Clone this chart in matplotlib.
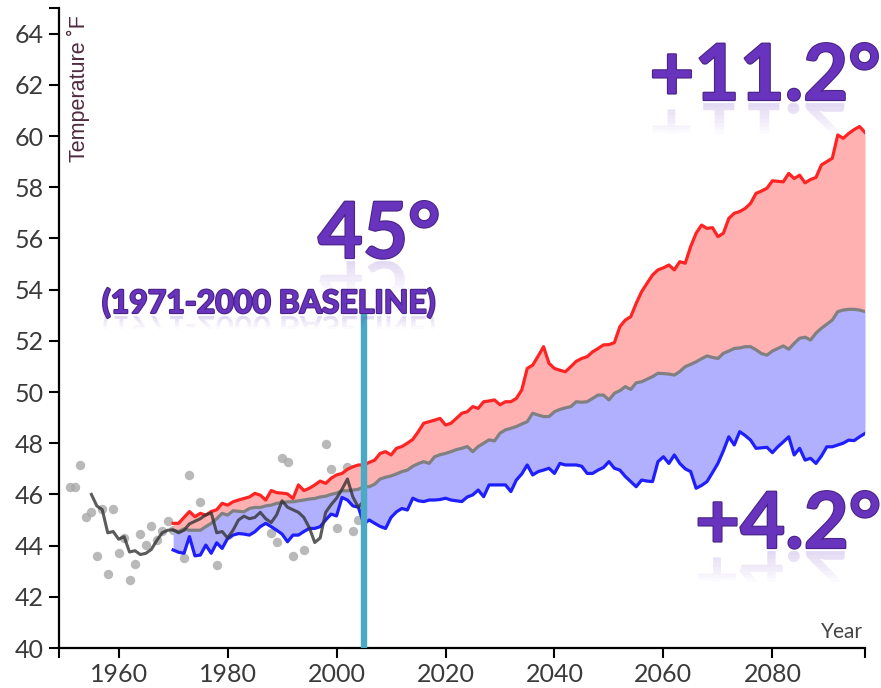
import matplotlib
matplotlib.use('Agg')
import matplotlib.pyplot as plt
from matplotlib import patheffects
from matplotlib.textpath import TextPath
from matplotlib.font_manager import FontProperties
from matplotlib.patches import PathPatch
from matplotlib.transforms import Affine2D, Bbox

#####
# Data (degrees F)

proj_years = list(range(1970, 2098))

high = [
    44.87, 44.87, 45.10, 45.33, 45.13, 45.26, 45.19, 45.33, 45.40, 45.65,
    45.58, 45.71, 45.78, 45.84, 45.90, 46.04, 45.97, 45.78, 46.15, 46.07,
    46.05, 46.02, 45.84, 46.37, 46.15, 46.24, 46.37, 46.52, 46.43, 46.63,
    46.76, 46.82, 46.98, 47.08, 47.15, 47.15, 47.25, 47.34, 47.60, 47.67,
    47.54, 47.80, 47.87, 48.00, 48.15, 48.45, 48.78, 48.84, 48.90, 48.97,
    48.71, 48.78, 48.97, 49.17, 49.23, 49.43, 49.36, 49.62, 49.65, 49.69,
    49.50, 49.62, 49.62, 49.75, 50.08, 50.92, 51.05, 51.40, 51.77, 51.12,
    50.92, 50.85, 50.79, 50.99, 51.20, 51.31, 51.38, 51.57, 51.70, 51.84,
    51.85, 51.93, 52.55, 52.81, 52.94, 53.46, 53.92, 54.25, 54.57, 54.77,
    54.85, 54.96, 54.77, 55.09, 55.03, 55.68, 56.20, 56.52, 56.39, 56.42,
    56.07, 56.20, 56.78, 56.98, 57.05, 57.17, 57.37, 57.76, 57.85, 57.96,
    58.25, 58.23, 58.21, 58.54, 58.34, 58.47, 58.17, 58.30, 58.38, 58.87,
    59.00, 59.13, 60.04, 59.91, 60.10, 60.25, 60.37, 60.14,
]

median = [
    44.60, 44.55, 44.65, 44.60, 44.60, 44.60, 44.74, 44.87, 45.05, 45.26,
    45.19, 45.36, 45.34, 45.32, 45.45, 45.49, 45.49, 45.55, 45.58, 45.65,
    45.68, 45.71, 45.71, 45.75, 45.78, 45.82, 45.84, 45.90, 45.93, 46.00,
    46.05, 46.14, 46.14, 46.17, 46.20, 46.30, 46.30, 46.40, 46.60, 46.67,
    46.72, 46.80, 46.89, 46.95, 47.10, 47.20, 47.28, 47.21, 47.47, 47.55,
    47.60, 47.67, 47.75, 47.80, 47.87, 47.67, 47.87, 48.00, 48.13, 48.09,
    48.39, 48.52, 48.58, 48.65, 48.75, 48.84, 49.17, 49.10, 49.04, 49.04,
    49.23, 49.32, 49.38, 49.43, 49.62, 49.60, 49.62, 49.75, 49.88, 49.88,
    49.69, 49.95, 50.05, 50.21, 50.10, 50.36, 50.40, 50.50, 50.60, 50.73,
    50.72, 50.70, 50.66, 50.80, 50.99, 51.08, 51.18, 51.30, 51.41, 51.35,
    51.31, 51.51, 51.60, 51.70, 51.72, 51.77, 51.77, 51.65, 51.50, 51.44,
    51.60, 51.70, 51.80, 51.67, 51.90, 52.10, 52.14, 52.03, 52.30, 52.49,
    52.65, 52.81, 53.14, 53.20, 53.23, 53.23, 53.20, 53.14,
]

low = [
    43.83, 43.74, 43.70, 44.35, 43.60, 43.63, 44.02, 43.70, 44.11, 43.89,
    44.28, 44.41, 44.47, 44.45, 44.41, 44.54, 44.74, 44.87, 44.74, 44.60,
    44.45, 44.15, 44.41, 44.41, 44.55, 44.67, 44.67, 44.74, 45.00, 45.23,
    45.16, 45.88, 45.78, 45.55, 45.50, 44.85, 45.00, 44.87, 44.75, 44.67,
    45.10, 45.32, 45.45, 45.39, 45.85, 45.75, 45.72, 45.78, 45.78, 45.80,
    45.85, 45.78, 45.75, 45.72, 45.90, 45.98, 46.17, 45.91, 46.37, 46.37,
    46.37, 46.37, 46.11, 46.56, 46.80, 47.15, 46.76, 46.89, 46.95, 47.02,
    46.82, 47.21, 47.15, 47.15, 47.15, 47.10, 46.82, 46.82, 46.95, 47.05,
    47.28, 47.02, 46.95, 46.70, 46.50, 46.30, 46.56, 46.52, 46.50, 47.28,
    47.47, 47.21, 47.54, 47.21, 47.00, 46.89, 46.24, 46.35, 46.50, 46.85,
    47.21, 47.70, 48.25, 47.93, 48.45, 48.30, 48.12, 47.80, 47.82, 47.84,
    47.63, 47.86, 48.05, 48.25, 47.54, 47.80, 47.34, 47.41, 47.21, 47.50,
    47.86, 47.86, 47.93, 48.00, 48.12, 48.10, 48.25, 48.38,
]

# observed annual values
obs_years = list(range(1951, 2005))
obs = [
    46.30, 46.30, 47.15, 45.10, 45.33, 43.60, 45.43, 42.88, 45.43, 43.72,
    44.30, 42.66, 43.28, 44.45, 44.02, 44.78, 44.20, 44.58, 44.97, 44.60,
    44.50, 43.50, 46.76, 45.00, 45.72, 44.90, 44.60, 43.24, 45.36, 44.40,
    45.39, 44.90, 45.55, 45.00, 45.00, 45.10, 45.30, 44.50, 44.15, 47.41,
    47.28, 43.60, 45.40, 43.83, 45.00, 45.00, 45.20, 47.97, 46.99, 44.67,
    46.39, 47.08, 44.57, 45.00,
]

# smoothed observations
avg_years = list(range(1955, 2006))
avg = [
    46.00, 45.55, 45.40, 44.50, 44.55, 44.25, 44.35, 43.75, 43.80, 43.65,
    43.70, 43.85, 44.20, 44.50, 44.60, 44.62, 44.50, 44.60, 44.85, 44.95,
    45.05, 45.20, 45.28, 44.50, 44.55, 44.30, 44.60, 45.00, 45.15, 45.05,
    45.10, 45.30, 45.05, 44.90, 45.20, 45.75, 45.50, 45.40, 45.30, 45.10,
    44.70, 44.12, 44.30, 45.30, 45.60, 45.85, 46.20, 46.60, 45.90, 45.50,
    45.75,
]

baseline_year = 2005
baseline_top = 53.1

x_ticks = [1960, 1980, 2000, 2020, 2040, 2060, 2080]
y_ticks = list(range(40, 65, 2))

W, H = 881, 688
PURPLE = '#6934bd'
PURPLE_EDGE = '#4a2386'

fig = plt.figure(figsize=(W / 100, H / 100), dpi=100)
ax = fig.add_axes([58.7 / W, 40 / H, (865 - 58.7) / W, 640 / H])

ax.scatter(obs_years, obs, s=46, color='#a8a8a8', alpha=0.8, lw=0, zorder=1)
ax.fill_between(proj_years, median, high, color='#ffb0b0', lw=0, zorder=2)
ax.fill_between(proj_years, low, median, color='#b0b0ff', lw=0, zorder=2)
ax.plot(proj_years, high, color='#ff2424', lw=2.3, zorder=3)
ax.plot(proj_years, median, color='#808080', lw=2.3, zorder=3)
ax.plot(proj_years, low, color='#1e1eff', lw=2.3, zorder=3)
ax.plot(avg_years, avg, color='#333333', alpha=0.8, lw=2.2, zorder=4)
ax.plot([baseline_year, baseline_year], [40, baseline_top], color='#4aa9c3',
        lw=4.6, solid_capstyle='butt', zorder=5)

ax.set_xlim(1949, 2097)
ax.set_ylim(40, 65)
ax.set_xticks(x_ticks)
ax.set_yticks(y_ticks)
ax.set_xticks([1949, 2097], minor=True)
ax.set_yticks([65], minor=True)

for s in ['top', 'right']:
    ax.spines[s].set_visible(False)
for s in ['left', 'bottom']:
    ax.spines[s].set_linewidth(1.6)
ax.tick_params(which='both', direction='out', length=7.5, width=1.5,
               labelsize=18, labelcolor='#3a3a3a')
ax.tick_params(axis='x', pad=3)
ax.tick_params(axis='y', pad=3)
for lab in ax.get_xticklabels() + ax.get_yticklabels():
    lab.set_fontfamily('Lato')

fig.text(78 / W, 1 - 89 / H, 'Temperature \u02daF', rotation=90, ha='center',
         va='center', fontsize=15.5, color='#4f2a40', family='Liberation Sans')
fig.text(863 / W, 1 - 638 / H, 'Year', ha='right', va='baseline',
         fontsize=15, color='#444444', family='Lato')


def purple_text(s, cx, base, size):
    fig.text(cx / W, 1 - base / H, s, ha='center', va='baseline',
             fontsize=size, family='Lato', fontweight='bold', color=PURPLE,
             zorder=10,
             path_effects=[patheffects.withStroke(linewidth=1.6,
                                                  foreground=PURPLE_EDGE)])
    # faded mirror image under the text
    fp = FontProperties(family='Lato', weight='bold')
    tp = TextPath((0, 0), s, size=size * 100 / 72, prop=fp)
    bb = tp.get_extents()
    y0 = H - base - 3
    tr = Affine2D().translate(-(bb.x0 + bb.x1) / 2, 0).scale(1, -1) \
        .translate(cx, y0)
    n = 8
    step = size * 0.07
    for i in range(n):
        p = PathPatch(tp, transform=tr, facecolor=PURPLE, lw=0,
                      alpha=0.18 * (1 - i / n), zorder=9)
        p.set_clip_box(Bbox.from_extents(0, y0 - (i + 1) * step,
                                         W, y0 - i * step))
        fig.add_artist(p)


purple_text('+11.2\u00b0', 765, 100, 56)
purple_text('45\u00b0', 379, 258, 56)
purple_text('(1971-2000 BASELINE)', 269, 313, 23)
purple_text('+4.2\u00b0', 788, 548, 56)

fig.savefig('out.png', dpi=100)
plt.close(fig)
